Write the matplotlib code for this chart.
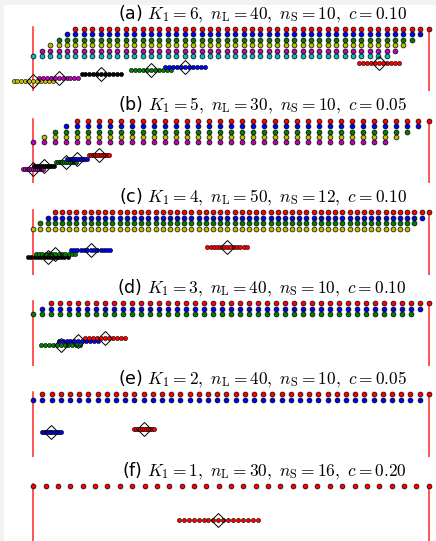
import matplotlib.pyplot as plt
import numpy as np
from matplotlib.patches import Rectangle

plt.rcParams['mathtext.fontset'] = 'cm'

# panel parameters
labels = ['a', 'b', 'c', 'd', 'e', 'f']
K1 = [6, 5, 4, 3, 2, 1]
nL = [40, 30, 50, 40, 40, 30]
nS = [10, 10, 12, 10, 10, 16]
cost = [0.10, 0.05, 0.10, 0.10, 0.05, 0.20]

row_colors = ['r', 'b', 'g', 'y', 'm', 'c']     # top row first
group_colors = ['r', 'b', 'g', 'k', 'm', 'y']   # rightmost cluster first

# cluster centres (fraction of the interval), left to right
centres = [
    [0.000, 0.064, 0.172, 0.298, 0.384, 0.874],
    [0.000, 0.028, 0.083, 0.111, 0.167],
    [0.037, 0.056, 0.145, 0.490],
    [0.069, 0.114, 0.181],
    [0.046, 0.279],
    [0.468],
]

W, H = 436, 541
fig = plt.figure(figsize=(W / 100, H / 100), dpi=100, facecolor='#f2f2f2')
fig.patches.append(Rectangle((4 / W, 0), 1, 1 - 5 / H, transform=fig.transFigure,
                             facecolor='white', edgecolor='none', zorder=-10))

top_rows = [29, 120.7, 212.3, 303.3, 394.3, 486]   # pixel height of top row
x0, span = 33.3, 395.4
xmin = -x0 / span
xmax = xmin + W / span
row_gap = 5.4
lvl_gap = 3.6

for i in range(6):
    K = K1[i]
    top = top_rows[i] - 29
    h = 91.4
    ax = fig.add_axes([0, 1 - (top + h) / H, 1, h / H])
    ax.set_xlim(xmin, xmax)
    ax.set_ylim(62.4, -29)
    ax.axis('off')
    ax.patch.set_alpha(0)

    # boundaries
    ax.plot([0, 0], [-2, 62.4], color='r', lw=1.1, alpha=0.85, zorder=1)
    ax.plot([1, 1], [-1, 62.4], color='r', lw=1.1, alpha=0.85, zorder=1)

    # large population grid
    N = nL[i] + K + 2
    xs = np.linspace(0, 1, N)
    for r in range(K):
        start = K - 1 - r
        cols = xs[start:start + nL[i] + 3]
        ax.plot(cols, np.full(len(cols), r * row_gap), 'o', ms=3.5,
                color=row_colors[r], mec='k', mew=0.5, zorder=3)

    # small population clusters
    cs = centres[i]
    for j, cx in enumerate(cs):
        col = group_colors[K - 1 - j]
        y = 34.3 + lvl_gap * (K - 1 - j)
        px = cx + cost[i] * (np.arange(nS[i] + 1) / nS[i] - 0.5)
        ax.plot(px, np.full(len(px), y), 'o', ms=3.0, color=col,
                mec='k', mew=0.4, zorder=3)
        ax.plot(cx, y, 'D', ms=7, mfc='none', mec='k', mew=0.7, zorder=4)

    title = (f"({labels[i]}) $K_1={K},\\ n_\\mathrm{{L}}={nL[i]},\\ "
             f"n_\\mathrm{{S}}={nS[i]},\\ c={cost[i]:.2f}$")
    ax.text(0.945, -15, title, ha='right', va='center', fontsize=12.5)

fig.savefig('out.png', dpi=100, facecolor=fig.get_facecolor())
